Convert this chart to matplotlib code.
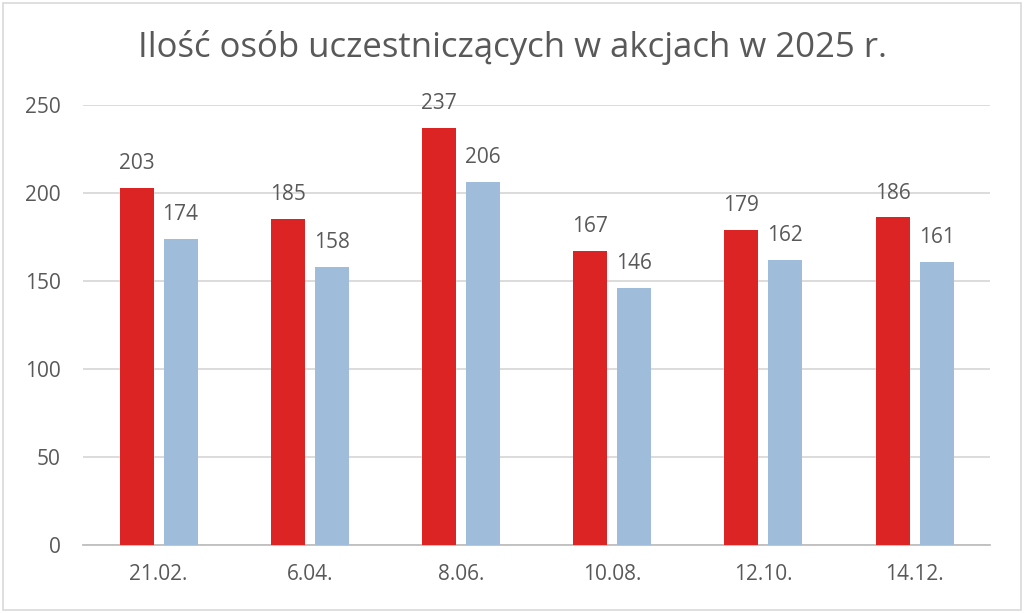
import numpy as np
import matplotlib.pyplot as plt
from matplotlib.patches import Rectangle

# data
dates = ["21.02.", "6.04.", "8.06.", "10.08.", "12.10.", "14.12."]
red_values = [203, 185, 237, 167, 179, 186]
blue_values = [174, 158, 206, 146, 162, 161]

RED = "#dc2424"
BLUE = "#9fbcdb"
TEXT = "#595959"
GRID = "#d9d9d9"

plt.rcParams["font.family"] = ["Open Sans", "DejaVu Sans"]

fig = plt.figure(figsize=(10.24, 6.13), dpi=100)
ax = fig.add_axes([0.081, 0.111, 0.886, 0.718])

x = np.arange(len(dates))
width = 0.225
gap = 0.066
off = (width + gap) / 2

bars_r = ax.bar(x - off, red_values, width, color=RED, zorder=3)
bars_b = ax.bar(x + off, blue_values, width, color=BLUE, zorder=3)

for bars in (bars_r, bars_b):
    for b in bars:
        ax.annotate(f"{int(b.get_height())}",
                    (b.get_x() + b.get_width() / 2, b.get_height()),
                    xytext=(0, 10), textcoords="offset points",
                    ha="center", va="bottom", fontsize=15, color=TEXT)

ax.set_xlim(-0.5, len(dates) - 0.5)
ax.set_ylim(0, 250)
ax.set_yticks(range(0, 251, 50))
ax.set_xticks(x)
ax.set_xticklabels(dates)
ax.tick_params(axis="both", length=0, labelsize=15, colors=TEXT)
ax.tick_params(axis="y", pad=16)
ax.tick_params(axis="x", pad=14)
ax.yaxis.grid(True, color=GRID, linewidth=1.3, zorder=0)
for s in ("top", "right", "left"):
    ax.spines[s].set_visible(False)
ax.spines["bottom"].set_color("#bfbfbf")
ax.spines["bottom"].set_linewidth(1.3)

fig.text(0.5, 0.922, "Ilość osób uczestniczących w akcjach w 2025 r.",
         ha="center", va="center", fontsize=25, color=TEXT)

fig.patches.append(Rectangle((0.003, 0.005), 0.994, 0.99, transform=fig.transFigure,
                             fill=False, edgecolor="#d9d9d9", linewidth=1.2))

fig.savefig("out.png", dpi=100)
